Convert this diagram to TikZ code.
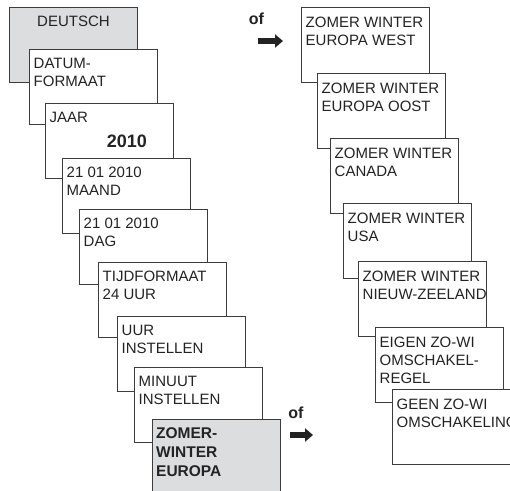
\documentclass[tikz,border=0pt]{standalone}
\usepackage{fontspec}
\setmainfont{Liberation Sans}
\usetikzlibrary{arrows.meta,calc}
\definecolor{boxline}{RGB}{60,60,60}
\definecolor{boxgray}{RGB}{220,221,223}
\definecolor{txt}{RGB}{35,35,35}
\begin{document}
\begin{tikzpicture}[x=1pt,y=-1pt,
  box/.style={draw=boxline, line width=0.9pt, fill=white, anchor=north west,
    minimum width=128pt, minimum height=75pt, inner sep=0pt, outer sep=0pt},
  graybox/.style={box, fill=boxgray},
  lbl/.style={anchor=north west, inner sep=0pt, align=left, text=txt,
    font=\fontsize{15}{18}\selectfont},
  boldlbl/.style={anchor=north west, inner sep=0pt, align=left, text=txt,
    font=\fontsize{15.5}{19}\selectfont\bfseries},
  oflbl/.style={anchor=base, inner sep=0pt, text=txt,
    font=\fontsize{16}{18}\selectfont\bfseries},
  fatarrow/.style={draw=txt, line width=6pt, -{Triangle[length=8pt,width=13pt]}}
]
\useasboundingbox (0,0) rectangle (510,490);
\fill[white] (0,0) rectangle (510,490);

% left column
\node[graybox] (b1) at (9,7) {};
\node[lbl, anchor=north] (t1) at ($(b1.north)+(0.5,9.3)$) {DEUTSCH};
\node[box] (b2) at (29,49) {};
\node[lbl] (t2) at ($(b2.north west)+(4.5,9.3)$) {DATUM-\\FORMAAT};
\node[box] (b3) at (45,103) {};
\node[lbl] (t3) at ($(b3.north west)+(4.5,9.3)$) {JAAR};
\node[anchor=base east, inner sep=0pt, text=txt, font=\fontsize{18}{20}\selectfont\bfseries]
  (t3b) at ($(b3.north west)+(102,44)$) {2010};
\node[box] (b4) at (62,158) {};
\node[lbl] (t4) at ($(b4.north west)+(4.5,9.3)$) {21 01 2010\\MAAND};
\node[box] (b5) at (79,209) {};
\node[lbl] (t5) at ($(b5.north west)+(4.5,9.3)$) {21 01 2010\\DAG};
\node[box] (b6) at (98,262) {};
\node[lbl] (t6) at ($(b6.north west)+(4.5,9.3)$) {TIJDFORMAAT\\24 UUR};
\node[box] (b7) at (117,316) {};
\node[lbl] (t7) at ($(b7.north west)+(4.5,9.3)$) {UUR\\INSTELLEN};
\node[box] (b8) at (134,367) {};
\node[lbl] (t8) at ($(b8.north west)+(4.5,9.3)$) {MINUUT\\INSTELLEN};
\node[graybox, minimum height=100pt] (b9) at (152,419) {};
\node[boldlbl] (t9) at ($(b9.north west)+(4,8)$) {ZOMER-\\WINTER\\EUROPA};

% right column
\node[box] (r1) at (301,7) {};
\node[lbl] (s1) at ($(r1.north west)+(4.5,10)$) {ZOMER WINTER\\EUROPA WEST};
\node[box] (r2) at (317,73) {};
\node[lbl] (s2) at ($(r2.north west)+(4.5,10)$) {ZOMER WINTER\\EUROPA OOST};
\node[box] (r3) at (330,138) {};
\node[lbl] (s3) at ($(r3.north west)+(4.5,10)$) {ZOMER WINTER\\CANADA};
\node[box] (r4) at (343,203) {};
\node[lbl] (s4) at ($(r4.north west)+(4.5,10)$) {ZOMER WINTER\\USA};
\node[box] (r5) at (358,261) {};
\node[lbl] (s5) at ($(r5.north west)+(4.5,10)$) {ZOMER WINTER\\NIEUW-ZEELAND};
\node[box] (r6) at (375,327) {};
\node[lbl] (s6) at ($(r6.north west)+(4.5,10)$) {EIGEN ZO-WI\\OMSCHAKEL-\\REGEL};
\node[box] (r7) at (392,389) {};
\node[lbl] (s7) at ($(r7.north west)+(4.5,10)$) {GEEN ZO-WI\\OMSCHAKELING};

% "of" arrows
\node[oflbl] (of1) at (256.5,24) {of};
\coordinate (a1s) at (258,41);
\coordinate (a1e) at (283,41);
\draw[fatarrow] (a1s) -- (a1e);
\node[oflbl] (of2) at (296,418) {of};
\coordinate (a2s) at (290,435);
\coordinate (a2e) at (313,435);
\draw[fatarrow] (a2s) -- (a2e);
\end{tikzpicture}
\end{document}
